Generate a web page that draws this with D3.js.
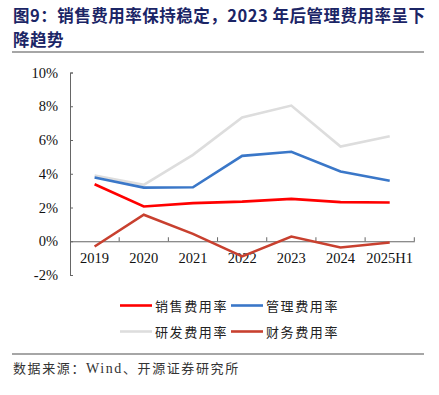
<!DOCTYPE html>
<html>
<head>
<meta charset="utf-8">
<script src="https://cdn.jsdelivr.net/npm/d3@7"></script>
<style>
  body { margin: 0; background: #fff; }
  svg { display: block; }
</style>
</head>
<body>
<script>
// categories and series (percent)
var years = ["2019", "2020", "2021", "2022", "2023", "2024", "2025H1"];
var salesRate = [3.38, 2.06, 2.26, 2.35, 2.51, 2.32, 2.30];
var adminRate = [3.78, 3.18, 3.20, 5.06, 5.30, 4.13, 3.58];
var rdRate = [3.90, 3.34, 5.12, 7.33, 8.04, 5.61, 6.22];
var financeRate = [-0.31, 1.57, 0.44, -0.90, 0.28, -0.37, -0.07];
var yTicks = [-2, 0, 2, 4, 6, 8, 10];

var seriesNames = ["销售费用率", "管理费用率", "研发费用率", "财务费用率"];
var seriesColors = ["#ff0000", "#3a77c8", "#dddddd", "#c8402f"];
var seriesValues = [salesRate, adminRate, rdRate, financeRate];

var w = 439, h = 395;
var svg = d3.select("body").append("svg")
            .attr("width", w)
            .attr("height", h);

// title
var titleFont = "'Noto Sans CJK SC', sans-serif";
svg.append("text")
   .attr("x", 13).attr("y", 22)
   .attr("font-family", titleFont).attr("font-weight", "bold")
   .attr("font-size", 16.5).attr("letter-spacing", 0.5).attr("fill", "#1b2566")
   .text("图9：销售费用率保持稳定，2023 年后管理费用率呈下");
svg.append("text")
   .attr("x", 13).attr("y", 46)
   .attr("font-family", titleFont).attr("font-weight", "bold")
   .attr("font-size", 16.5).attr("letter-spacing", 0.5).attr("fill", "#1b2566")
   .text("降趋势");

// rules
svg.append("line").attr("x1", 12).attr("x2", 424).attr("y1", 52).attr("y2", 52)
   .attr("stroke", "#888").attr("stroke-width", 1.5);
svg.append("line").attr("x1", 12).attr("x2", 424).attr("y1", 354).attr("y2", 354)
   .attr("stroke", "#888").attr("stroke-width", 1.5);

// scales
var xScale = d3.scaleBand().domain(years).range([70, 414.3]);
var yScale = d3.scaleLinear().domain([-2, 10]).range([275, 72.5]);

var axisColor = "#666";
var numFont = "'Liberation Serif', 'Times New Roman', serif";

// y axis
var yAxis = svg.append("g")
   .attr("transform", "translate(70,0)")
   .call(d3.axisLeft(yScale).tickValues(yTicks).tickSize(-3).tickPadding(12)
           .tickFormat(d => d + "%"));
yAxis.select(".domain").attr("stroke", axisColor);
yAxis.selectAll(".tick line").attr("stroke", axisColor);
yAxis.selectAll("text").attr("font-family", numFont).attr("font-size", 14.5).attr("fill", "#111");

// x axis at zero
var xAxis = svg.append("g")
   .attr("transform", "translate(0," + yScale(0) + ")")
   .call(d3.axisBottom(xScale).tickSize(0).tickSizeOuter(0).tickPadding(11));
xAxis.select(".domain").attr("stroke", axisColor);
xAxis.selectAll("text").attr("font-family", numFont).attr("font-size", 14.5).attr("fill", "#111");

// category boundary ticks pointing up
var bounds = years.map(d => xScale(d) + xScale.bandwidth());
svg.selectAll(".bt").data(bounds).enter().append("line")
   .attr("x1", d => d).attr("x2", d => d)
   .attr("y1", yScale(0)).attr("y2", yScale(0) - 4)
   .attr("stroke", axisColor);

// lines (gray drawn first so others are on top)
var line = d3.line()
   .x((d, i) => xScale(years[i]) + xScale.bandwidth() / 2)
   .y(d => yScale(d));
[2, 3, 1, 0].forEach(function(k) {
  svg.append("path")
     .datum(seriesValues[k])
     .attr("d", line)
     .attr("fill", "none")
     .attr("stroke", seriesColors[k])
     .attr("stroke-width", 2.6);
});

// legend
var legendPos = [[120, 305.5], [231, 305.5], [120, 331.5], [231, 331.5]];
seriesNames.forEach(function(name, k) {
  var p = legendPos[k];
  svg.append("line")
     .attr("x1", p[0]).attr("x2", p[0] + 32)
     .attr("y1", p[1]).attr("y2", p[1])
     .attr("stroke", seriesColors[k]).attr("stroke-width", 2.6);
  svg.append("text")
     .attr("x", p[0] + 35).attr("y", p[1] + 5)
     .attr("font-family", "'Noto Sans CJK SC', sans-serif")
     .attr("font-size", 13).attr("letter-spacing", 1.6).attr("fill", "#222")
     .text(name);
});

// source
var source = svg.append("text")
   .attr("x", 13).attr("y", 373)
   .attr("font-family", "'Noto Sans CJK SC', sans-serif")
   .attr("font-size", 13).attr("letter-spacing", 1.6).attr("fill", "#333");
source.append("tspan").text("数据来源：");
source.append("tspan").attr("font-family", numFont).attr("font-size", 14).text("Wind");
source.append("tspan").text("、开源证券研究所");
</script>
</body>
</html>
